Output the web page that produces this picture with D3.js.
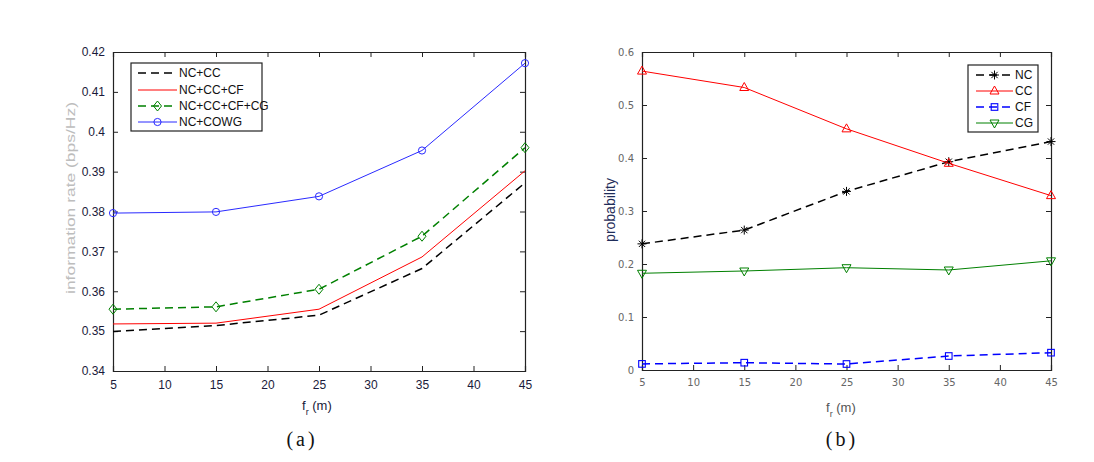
<!DOCTYPE html>
<html><head><meta charset="utf-8">
<script src="https://cdn.jsdelivr.net/npm/d3@7"></script>
<style>body{margin:0;background:#fff}svg{display:block}</style>
</head><body>
<svg id="c" width="1094" height="462"></svg>
<script>
// ---- data ----
const xs = [5, 15, 25, 35, 45];
const xTicks = [5, 10, 15, 20, 25, 30, 35, 40, 45];
// panel (a)
const aNames = ["NC+CC", "NC+CC+CF", "NC+CC+CF+CG", "NC+COWG"];
const aNC_CC      = [0.3499, 0.3514, 0.3540, 0.3657, 0.3872];
const aNC_CC_CF   = [0.3518, 0.3520, 0.3555, 0.3686, 0.3902];
const aNC_CC_CF_CG= [0.3555, 0.3561, 0.3605, 0.3738, 0.3960];
const aNC_COWG    = [0.3796, 0.3799, 0.3838, 0.3953, 0.4172];
const aYTicks = [0.34, 0.35, 0.36, 0.37, 0.38, 0.39, 0.4, 0.41, 0.42];
// panel (b)
const bNames = ["NC", "CC", "CF", "CG"];
const bNC = [0.238, 0.264, 0.337, 0.393, 0.431];
const bCC = [0.564, 0.533, 0.455, 0.390, 0.329];
const bCF = [0.0115, 0.0138, 0.0113, 0.0264, 0.0327];
const bCG = [0.1825, 0.1868, 0.1930, 0.1887, 0.2060];
const bYTicks = [0, 0.1, 0.2, 0.3, 0.4, 0.5, 0.6];

const svg = d3.select("#c");
const font = "'Liberation Sans', Arial, sans-serif";

function marker(g, type, x, y, color) {
  if (type === "circle") g.append("circle").attr("cx", x).attr("cy", y).attr("r", 3.6).attr("fill", "none").attr("stroke", color).attr("stroke-width", 1);
  else if (type === "diamond") g.append("path").attr("d", `M${x},${y-5}L${x+4},${y}L${x},${y+5}L${x-4},${y}Z`).attr("fill", "none").attr("stroke", color).attr("stroke-width", 1);
  else if (type === "tri") g.append("path").attr("d", `M${x},${y-5}L${x+4.5},${y+3}L${x-4.5},${y+3}Z`).attr("fill", "none").attr("stroke", color).attr("stroke-width", 1);
  else if (type === "trid") g.append("path").attr("d", `M${x},${y+5}L${x+4.5},${y-3}L${x-4.5},${y-3}Z`).attr("fill", "none").attr("stroke", color).attr("stroke-width", 1);
  else if (type === "square") g.append("rect").attr("x", x-3.3).attr("y", y-3.3).attr("width", 6.6).attr("height", 6.6).attr("fill", "none").attr("stroke", color).attr("stroke-width", 1.1);
  else if (type === "star") {
    const s = 4.5, d = s*0.7;
    g.append("path").attr("d", `M${x-s},${y}H${x+s}M${x},${y-s}V${y+s}M${x-d},${y-d}L${x+d},${y+d}M${x-d},${y+d}L${x+d},${y-d}`).attr("stroke", color).attr("stroke-width", 1);
  }
}

function panel(opt) {
  const {x0, x1, y0, y1, yDomain, yTicks, yFmt, series, tickColor, tickFont, tickSize} = opt;
  const g = svg.append("g");
  const x = d3.scaleLinear().domain([5, 45]).range([x0, x1]);
  const y = d3.scaleLinear().domain(yDomain).range([y1, y0]);
  const tl = 5;
  const ax = [
    [d3.axisBottom(x).tickValues(xTicks).tickSize(-tl).tickPadding(9).tickFormat(d3.format("d")), `translate(0,${y1})`],
    [d3.axisTop(x).tickValues(xTicks).tickSize(-tl).tickFormat(""), `translate(0,${y0})`],
    [d3.axisLeft(y).tickValues(yTicks).tickSize(-tl).tickPadding(8).tickFormat(yFmt), `translate(${x0},0)`],
    [d3.axisRight(y).tickValues(yTicks).tickSize(-tl).tickFormat(""), `translate(${x1},0)`]
  ];
  ax.forEach(([a, t]) => {
    const gg = g.append("g").attr("transform", t).call(a);
    gg.select(".domain").attr("stroke", "#222").attr("stroke-width", 1.2);
    gg.selectAll(".tick line").attr("stroke", "#222");
    gg.selectAll(".tick text").attr("fill", tickColor).attr("font-family", tickFont).attr("font-size", tickSize);
  });
  series.forEach(s => {
    const line = d3.line().x((d, i) => x(xs[i])).y(d => y(d));
    g.append("path").datum(s.values).attr("d", line).attr("fill", "none")
      .attr("stroke", s.color).attr("stroke-width", s.dash ? 1.5 : 1)
      .attr("stroke-dasharray", s.dash ? "8,5" : null);
    if (s.marker) s.values.forEach((v, i) => marker(g, s.marker, x(xs[i]), y(v), s.color));
  });
  return g;
}

function legend(lx, ly, w, h, rows, series, lineX0, lineX1, textX, fs) {
  const g = svg.append("g");
  g.append("rect").attr("x", lx).attr("y", ly).attr("width", w).attr("height", h).attr("fill", "#fff").attr("stroke", "#222").attr("stroke-width", 1.2);
  series.forEach((s, i) => {
    const yy = rows[i];
    g.append("line").attr("x1", lineX0).attr("x2", lineX1).attr("y1", yy).attr("y2", yy)
      .attr("stroke", s.color).attr("stroke-width", s.dash ? 1.5 : 1).attr("stroke-dasharray", s.dash ? "8,5" : null);
    if (s.marker) marker(g, s.marker, (lineX0 + lineX1) / 2, yy, s.color);
    g.append("text").attr("x", textX).attr("y", yy + 4).attr("font-family", font).attr("font-size", fs).attr("fill", "#111").text(s.name);
  });
}

// ---- panel (a) ----
const aSeries = [
  {name: aNames[0], values: aNC_CC, color: "#000", dash: true},
  {name: aNames[1], values: aNC_CC_CF, color: "#ff0000", dash: false},
  {name: aNames[2], values: aNC_CC_CF_CG, color: "#008000", dash: true, marker: "diamond"},
  {name: aNames[3], values: aNC_COWG, color: "#2a2aff", dash: false, marker: "circle"}
];
panel({x0: 113, x1: 525, y0: 52, y1: 371, yDomain: [0.34, 0.42], yTicks: aYTicks,
  yFmt: d => (d === 0.4 ? "0.4" : d3.format(".2f")(d)), series: aSeries, tickColor: "#1a1a3a", tickFont: font, tickSize: 12});
legend(131, 63, 131, 68, [73, 90, 106, 122], aSeries, 138, 177, 179, 12);

svg.append("text").attr("transform", "translate(75,294) rotate(-90)").attr("font-family", font).attr("font-size", 13)
  .attr("fill", "#bdbdbd").attr("textLength", 192).attr("lengthAdjust", "spacingAndGlyphs").text("information rate (bps/Hz)");

function xLabel(xc, yb, col) {
  const t = svg.append("text").attr("x", xc).attr("y", yb).attr("font-family", font).attr("font-size", 13).attr("fill", col);
  t.append("tspan").text("f");
  t.append("tspan").attr("dy", 5).attr("font-size", 9).text("r");
  t.append("tspan").attr("dy", -5).text(" (m)");
}
xLabel(302, 410, "#1a1a3a");

// ---- panel (b) ----
const bSeries = [
  {name: bNames[0], values: bNC, color: "#000", dash: true, marker: "star"},
  {name: bNames[1], values: bCC, color: "#ff0000", dash: false, marker: "tri"},
  {name: bNames[2], values: bCF, color: "#0000ff", dash: true, marker: "square"},
  {name: bNames[3], values: bCG, color: "#008000", dash: false, marker: "trid"}
];
panel({x0: 642, x1: 1051, y0: 52, y1: 370, yDomain: [0, 0.6], yTicks: bYTicks,
  yFmt: d => (d === 0 ? "0" : d3.format(".1f")(d)), series: bSeries, tickColor: "#666", tickFont: "'DejaVu Sans', sans-serif", tickSize: 10});
legend(968, 65, 70, 67, [75, 91, 107, 123], bSeries, 976, 1013, 1015, 12);

svg.append("text").attr("transform", "translate(615,210) rotate(-90)").attr("text-anchor", "middle").attr("font-family", font)
  .attr("font-size", 14).attr("fill", "#1f2d5a").text("probability");
xLabel(826, 412, "#555");

// captions
svg.append("text").attr("x", 302).attr("y", 446).attr("text-anchor", "middle").attr("font-family", "'Liberation Serif', serif")
  .attr("font-size", 20).attr("fill", "#111").attr("letter-spacing", 3).text("(a)");
svg.append("text").attr("x", 842).attr("y", 446).attr("text-anchor", "middle").attr("font-family", "'Liberation Serif', serif")
  .attr("font-size", 20).attr("fill", "#111").attr("letter-spacing", 3).text("(b)");
</script>
</body></html>
